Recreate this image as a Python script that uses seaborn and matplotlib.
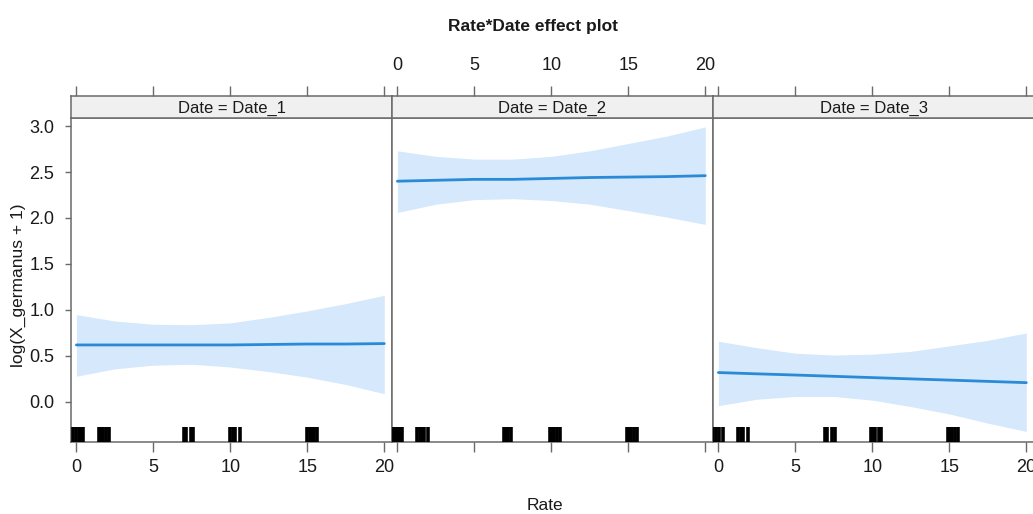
import numpy as np
import pandas as pd
import matplotlib
matplotlib.use("Agg")
import matplotlib.pyplot as plt
from matplotlib import font_manager
import seaborn as sns

# ---------------- data ----------------
dates = ["Date_1", "Date_2", "Date_3"]
rate_grid = [0, 2.5, 5, 7.5, 10, 12.5, 15, 17.5, 20]

fit_d1 = [0.62, 0.62, 0.62, 0.62, 0.62, 0.625, 0.63, 0.63, 0.635]
upr_d1 = [0.95, 0.88, 0.845, 0.84, 0.86, 0.92, 0.99, 1.07, 1.16]
lwr_d1 = [0.28, 0.36, 0.40, 0.41, 0.38, 0.33, 0.27, 0.19, 0.09]

fit_d2 = [2.40, 2.41, 2.42, 2.42, 2.43, 2.44, 2.445, 2.45, 2.46]
upr_d2 = [2.73, 2.67, 2.64, 2.64, 2.67, 2.73, 2.81, 2.89, 2.99]
lwr_d2 = [2.06, 2.15, 2.20, 2.21, 2.19, 2.15, 2.08, 2.01, 1.93]

fit_d3 = [0.32, 0.306, 0.293, 0.279, 0.265, 0.251, 0.238, 0.224, 0.21]
upr_d3 = [0.66, 0.59, 0.53, 0.51, 0.52, 0.55, 0.61, 0.67, 0.75]
lwr_d3 = [-0.04, 0.03, 0.06, 0.06, 0.02, -0.05, -0.13, -0.23, -0.32]

rug_d1 = [-0.2, 0.0, 0.15, 0.3, 0.45, 1.45, 1.6, 1.75, 1.9, 2.1, 7.0, 7.1, 7.45, 7.55,
          10.0, 10.15, 10.3, 10.6, 15.0, 15.15, 15.3, 15.45, 15.6]
rug_d2 = [-0.4, -0.25, -0.1, 0.05, 0.2, 0.3, 1.3, 1.45, 1.6, 1.75, 2.0, 6.9, 7.05, 7.2, 7.4,
          9.9, 10.05, 10.2, 10.35, 10.55, 14.9, 15.05, 15.2, 15.35, 15.55]
rug_d3 = [-0.35, -0.15, 0.05, 0.3, 1.3, 1.45, 1.6, 1.95, 6.9, 7.05, 7.4, 7.55,
          9.9, 10.05, 10.2, 10.4, 10.55, 14.9, 15.05, 15.2, 15.35, 15.55]

x_ticks = [0, 5, 10, 15, 20]
y_ticks = [0.0, 0.5, 1.0, 1.5, 2.0, 2.5, 3.0]

fits = [fit_d1, fit_d2, fit_d3]
uprs = [upr_d1, upr_d2, upr_d3]
lwrs = [lwr_d1, lwr_d2, lwr_d3]
rugs = [rug_d1, rug_d2, rug_d3]

# ---------------- style ----------------
sns.set_theme(style="white")
names = {f.name for f in font_manager.fontManager.ttflist}
fam = "Liberation Sans Narrow" if "Liberation Sans Narrow" in names else "Liberation Sans"
plt.rcParams["font.family"] = [fam, "DejaVu Sans"]

LINE_C = "#2A8AD8"
BAND_C = "#D6E8FB"
AX_C = "#6A6A6A"
TXT_C = "#1a1a1a"
W, H = 1033, 514

fig = plt.figure(figsize=(W / 100, H / 100), dpi=100)
fig.patch.set_facecolor("white")

for i in range(3):
    L = 71 + 321 * i
    ax = fig.add_axes([L / W, 72 / H, 321 / W, 324 / H])
    st = fig.add_axes([L / W, 396 / H, 321 / W, 22 / H])

    ax.fill_between(rate_grid, lwrs[i], uprs[i], color=BAND_C, lw=0, zorder=1)
    sns.lineplot(x=rate_grid, y=fits[i], ax=ax, color=LINE_C, lw=2, zorder=3)
    sns.rugplot(x=rugs[i], ax=ax, height=0.045, color="black", linewidth=2.6,
                zorder=4)

    ax.set_xlim(-0.35, 20.5)
    ax.set_ylim(-0.435, 3.087)
    for s in ax.spines.values():
        s.set_color(AX_C)
        s.set_linewidth(1.1)

    ax.set_xticks(x_ticks)
    ax.tick_params(axis="x", bottom=True, top=False, direction="out", length=7,
                   width=1, color=AX_C, labelsize=13, labelcolor=TXT_C, pad=5,
                   labelbottom=(i != 1))
    ax.set_yticks(y_ticks)
    if i == 0:
        ax.set_yticklabels([f"{v:.1f}" for v in y_ticks])
        ax.tick_params(axis="y", left=True, direction="out", length=4, width=1,
                       color=AX_C, labelsize=13, labelcolor=TXT_C, pad=8)
    else:
        ax.tick_params(axis="y", left=False, labelleft=False)
    ax.set_xlabel("")
    ax.set_ylabel("")

    # strip
    st.set_facecolor("#F0F0F0")
    st.set_xlim(-0.35, 20.5)
    st.set_ylim(0, 1)
    st.set_yticks([])
    st.set_xticks(x_ticks)
    st.tick_params(axis="x", top=True, bottom=False, labelbottom=False,
                   labeltop=(i == 1), direction="out", length=7, width=1,
                   color=AX_C, labelsize=13, labelcolor=TXT_C, pad=9)
    for s in st.spines.values():
        s.set_color(AX_C)
        s.set_linewidth(1.1)
    st.text(0.5, 0.45, f"Date = {dates[i]}", transform=st.transAxes,
            ha="center", va="center", fontsize=12, color=TXT_C)

fig.text(533 / W, 1 - 27 / H, "Rate*Date effect plot", ha="center", va="center",
         fontsize=12.5, fontweight="bold", color=TXT_C)
fig.text(18 / W, 1 - 285 / H, "log(X_germanus + 1)", ha="center", va="center",
         rotation=90, fontsize=12.5, color=TXT_C)
fig.text(545 / W, 1 - 505 / H, "Rate", ha="center", va="center", fontsize=12.5,
         color=TXT_C)

fig.savefig("out.png", dpi=100)
